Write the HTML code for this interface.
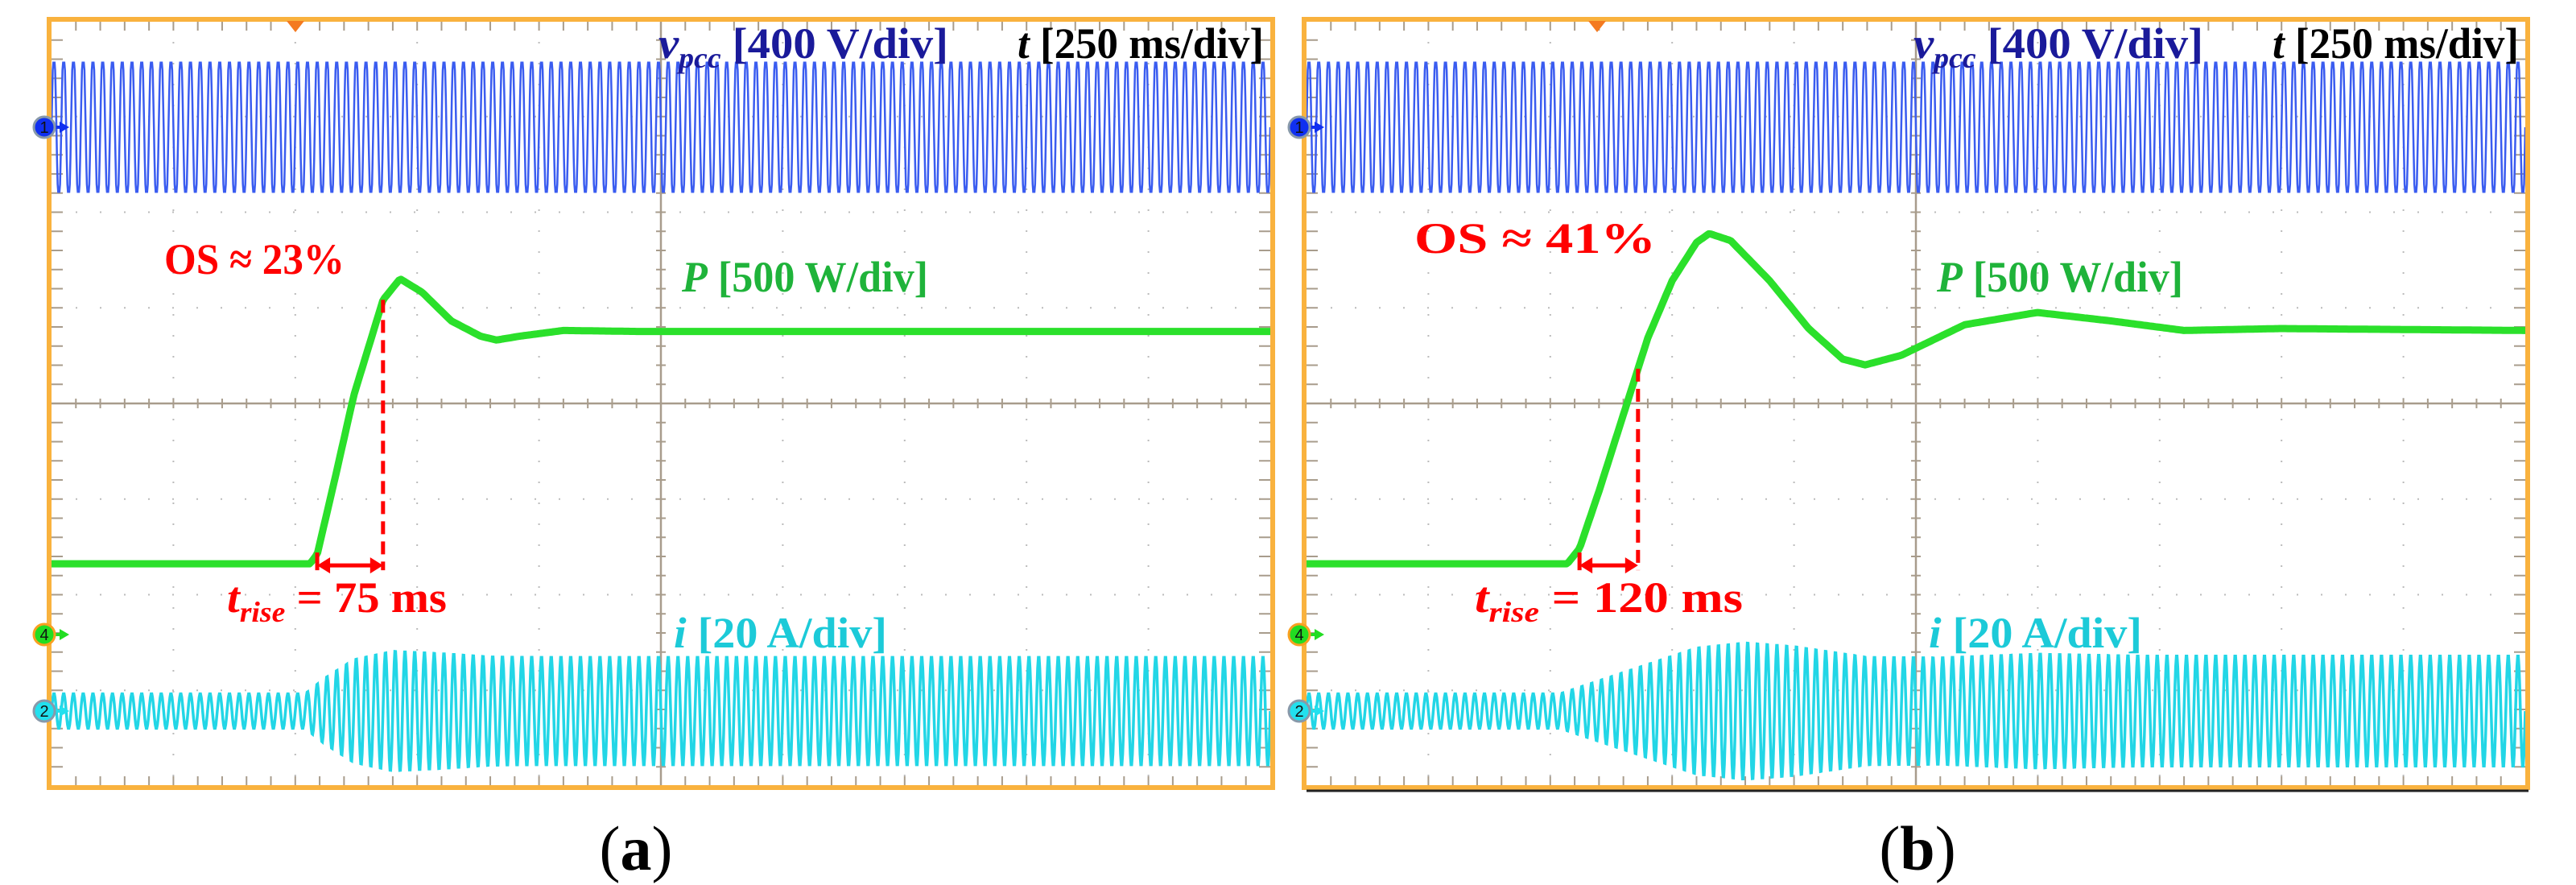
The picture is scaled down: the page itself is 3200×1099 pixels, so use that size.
<!DOCTYPE html>
<html><head><meta charset="utf-8"><style>
html,body{margin:0;padding:0;background:#fff;}
svg{display:block;}
text{font-family:"Liberation Serif",serif;font-weight:bold;}
</style></head><body>
<svg id="fig" width="3200" height="1099" viewBox="0 0 3200 1099" xmlns="http://www.w3.org/2000/svg"></svg>
<script>
// ---- data ----
const timeSpanMs = 2500;
const vpccPeak = 270;           // V
const vpccFreq = 50;            // Hz
const iFreq = 50;               // Hz
// Panel (a) power response: time (ms) / power (W)
const pTimeA = [0,530,545,580,620,650,680,715,760,820,880,913,960,1050,1200,2500];
const pValA  = [370,370,420,800,1250,1500,1750,1860,1790,1640,1560,1540,1560,1590,1585,1585];
// Panel (b) power response
const pTimeB = [0,535,560,600,650,700,750,800,826,870,950,1030,1100,1146,1220,1350,1499,1650,1800,2000,2500];
const pValB  = [370,370,450,750,1150,1550,1850,2050,2097,2060,1850,1600,1440,1410,1460,1620,1684,1640,1590,1600,1590];
// current envelope: time (ms) / amplitude (A)
const iTimeA = [0,520,560,620,700,800,900,1000,2500];
const iAmpA  = [3.7,3.7,7,11,12.8,12.3,11.6,11.5,11.5];
const iTimeB = [0,520,600,700,800,900,1000,1150,1300,1500,1700,2500];
const iAmpB  = [3.7,3.7,6.5,10,13.5,14.6,13.8,11.5,11.4,12.2,11.8,11.8];
const riseA = [545, 680]; // ms (start, end of rise) for arrow
const riseB = [560, 680];

const NS="http://www.w3.org/2000/svg";
const svg=document.getElementById('fig');
function mk(tag,attrs,parent){const e=document.createElementNS(NS,tag);for(const k in attrs)e.setAttribute(k,attrs[k]);(parent||svg).appendChild(e);return e;}
function interp(ts,vs,t){if(t<=ts[0])return vs[0];for(let i=1;i<ts.length;i++){if(t<=ts[i]){const f=(t-ts[i-1])/(ts[i]-ts[i-1]);return vs[i-1]+f*(vs[i]-vs[i-1]);}}return vs[vs.length-1];}

const top0=26, bot0=976, W=1514, divH=(bot0-top0)/8;
function panel(name,ox,pT,pV,iT,iA,rise,os,trise,trig,labelX,labelTxt,ext){
  const g=mk('g',{});
  
  
  const X=t=>ox+t/timeSpanMs*W;
  const yP=p=>788-p/500*divH;
  const yI=a=>883-a/20*divH;
  const yV=v=>158-v/400*divH;
  // grid
  const grid=mk('g',{},g);
  
  
  for(let i=1;i<10;i++){const x=ox+i*W/10;
    mk('line',{x1:x,y1:top0,x2:x,y2:bot0,stroke:i==5?'#a89c8c':'#bbb','stroke-width':i==5?2.5:2,'stroke-dasharray':i==5?'':'2 24'},grid);}
  for(let j=1;j<8;j++){const y=top0+j*divH;
    mk('line',{x1:ox,y1:y,x2:ox+W,y2:y,stroke:j==4?'#a89c8c':'#bbb','stroke-width':j==4?2.5:2,'stroke-dasharray':j==4?'':'2 28'},grid);}
  for(let i=1;i<50;i++){const x=ox+i*W/50;
    mk('line',{x1:x,y1:top0,x2:x,y2:top0+12,stroke:'#a89c8c','stroke-width':2},grid);
    mk('line',{x1:x,y1:bot0-12,x2:x,y2:bot0,stroke:'#a89c8c','stroke-width':2},grid);
    mk('line',{x1:x,y1:501-6,x2:x,y2:501+6,stroke:'#a89c8c','stroke-width':2},grid);}
  for(let j=1;j<40;j++){const y=top0+j*divH/5;
    mk('line',{x1:ox,y1:y,x2:ox+14,y2:y,stroke:'#a89c8c','stroke-width':2},grid);
    mk('line',{x1:ox+W-14,y1:y,x2:ox+W,y2:y,stroke:'#a89c8c','stroke-width':2},grid);
    mk('line',{x1:ox+W/2-6,y1:y,x2:ox+W/2+6,y2:y,stroke:'#a89c8c','stroke-width':2},grid);}
  // vpcc
  let d='';const cyc=vpccFreq*timeSpanMs/1000, N=cyc*16;
  for(let k=0;k<=N;k++){const t=k/N*timeSpanMs;const s=Math.sin(2*Math.PI*vpccFreq*t/1000);
    const v=vpccPeak*Math.sign(s)*Math.min(1,Math.abs(s)*1.25);d+=(k?'L':'M')+X(t).toFixed(1)+' '+yV(v).toFixed(1);}
  const vl=mk('path',{d,fill:'none',stroke:'#3a5cf0','stroke-width':2.5},g);
  
  
  // current
  d='';const Ni=iFreq*timeSpanMs/1000*14;
  for(let k=0;k<=Ni;k++){const t=k/Ni*timeSpanMs;const a=interp(iT,iA,t)*Math.sin(2*Math.PI*iFreq*t/1000);
    d+=(k?'L':'M')+X(t).toFixed(1)+' '+yI(a).toFixed(1);}
  const il=mk('path',{d,fill:'none',stroke:'#22d6e6','stroke-width':3.5},g);
  
  
  // power
  d='';for(let k=0;k<=600;k++){const t=k/600*timeSpanMs;d+=(k?'L':'M')+X(t).toFixed(1)+' '+yP(interp(pT,pV,t)).toFixed(1);}
  const pl=mk('path',{d,fill:'none',stroke:'#2be02b','stroke-width':9,'stroke-linejoin':'round'},g);
  
  
  // rise annotation
  const xs=X(rise[0]),xe=X(rise[1]),ye=yP(interp(pT,pV,rise[1])),yb=yP(pV[0]);
  const dl=mk('line',{x1:xe,y1:ye,x2:xe,y2:yb+8,stroke:'#f00','stroke-width':5,'stroke-dasharray':'16 9'},g);
  
  
  mk('line',{x1:xs,y1:yb-14,x2:xs,y2:yb+8,stroke:'#f00','stroke-width':5},g);
  const ar=mk('g',{},g);
  
  
  mk('line',{x1:xs+10,y1:yb+2,x2:xe-10,y2:yb+2,stroke:'#f00','stroke-width':5},ar);
  mk('polygon',{points:`${xs},${yb+2} ${xs+16},${yb-8} ${xs+16},${yb+12}`,fill:'#f00'},ar);
  mk('polygon',{points:`${xe},${yb+2} ${xe-16},${yb-8} ${xe-16},${yb+12}`,fill:'#f00'},ar);
  // frame
  const fr=mk('rect',{x:ox-3,y:top0-2,width:W+6,height:bot0-top0+4,fill:'none',stroke:'#f9b23e','stroke-width':6},g);
  
  
  if(ext) mk('line',{x1:ox,y1:bot0+6,x2:ox+W+4,y2:bot0+6,stroke:'#222','stroke-width':3},g);
  // trigger
  const tr=mk('polygon',{points:`${trig-11},${top0} ${trig+11},${top0} ${trig},${top0+14}`,fill:'#f47a20'},g);
  
  
  // channel markers
  function marker(y,fill,ring,num,nm){const m=mk('g',{},g);
    
    
    mk('line',{x1:ox-8,y1:y,x2:ox+12,y2:y,stroke:fill,'stroke-width':4},m);
    mk('polygon',{points:`${ox+10},${y-7} ${ox+22},${y} ${ox+10},${y+7}`,fill:fill},m);
    mk('circle',{cx:ox-9,cy:y,r:13,fill:fill,stroke:ring,'stroke-width':3},m);
    const t=mk('text',{x:ox-9,y:y+7,'text-anchor':'middle','font-size':20,fill:'#111',style:'font-family:Liberation Sans,sans-serif;font-weight:normal'},m);t.textContent=num;}
  marker(158,'#1030f0','#8899aa','1','channel-1-marker');
  marker(788,'#22dd22','#f9a020','4','channel-4-marker');
  marker(883,'#22e0ee','#8899aa','2','channel-2-marker');
  // labels
  const off=ox-64;
  function txt(x,y,html,fill,size,len,nm){const t=mk('text',{x:x+off,y:y,fill:fill,'font-size':size,textLength:len,lengthAdjust:'spacingAndGlyphs'},g);
    
    
    t.innerHTML=html;return t;}
  txt(818,72,'<tspan font-style="italic">v</tspan><tspan font-style="italic" font-size="36" dy="12">pcc</tspan><tspan dy="-12"> [400 V/div]</tspan>','#1a1a9a',54,360,'vpcc-label');
  txt(1264,72,'<tspan font-style="italic">t</tspan> [250 ms/div]','#000',54,306,'time-scale-label');
  txt(847,362,'<tspan font-style="italic">P</tspan> [500 W/div]','#1fb33a',54,306,'power-label');
  txt(837,804,'<tspan font-style="italic">i</tspan> [20 A/div]','#1ccad8',54,265,'current-label');
  txt(os[0],os[1],os[2],'#f00',54,os[3],'overshoot-label');
  txt(trise[0],760,'<tspan font-style="italic">t</tspan><tspan font-style="italic" font-size="36" dy="12">rise</tspan><tspan dy="-12"> = '+trise[1]+'</tspan>','#f00',54,trise[2],'rise-time-label');
  const L=mk('text',{x:labelX,y:1080,'text-anchor':'middle','font-size':78,fill:'#000',style:'font-weight:normal'});
  
  
  L.innerHTML='(<tspan font-weight="bold">'+labelTxt+'</tspan>)';
}
panel('a',64,pTimeA,pValA,iTimeA,iAmpA,riseA,[204,340,'OS ≈ 23%',224],[282,'75 ms',273],367,790,'a',false);
panel('b',1623,pTimeB,pValB,iTimeB,iAmpB,riseB,[198,314,'OS ≈ 41%',300],[273,'120 ms',333],1984,2382,'b',true);
</script>
</body></html>
